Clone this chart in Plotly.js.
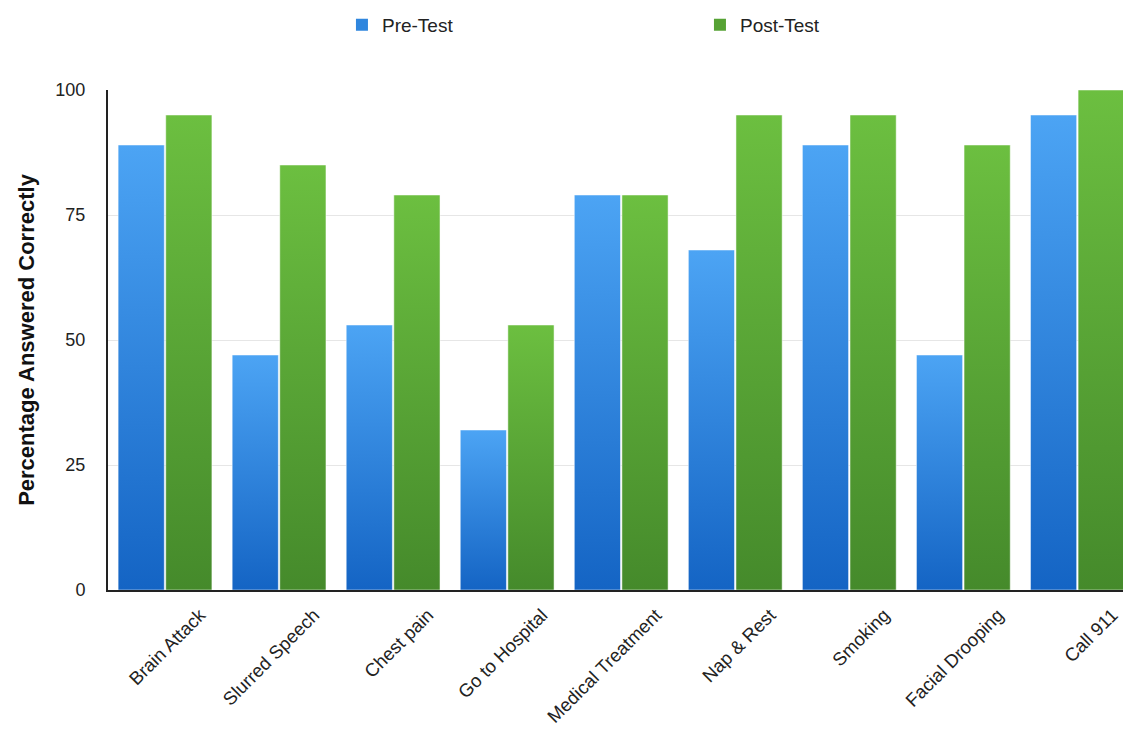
<!DOCTYPE html>
<html>
<head>
<meta charset="utf-8">
<script src="https://cdn.plot.ly/plotly-3.0.1.min.js"></script>
<style>html,body{margin:0;padding:0;background:#fff;}#chart{width:1123px;height:730px;}</style>
</head>
<body>
<div id="chart"></div>
<script>
const categories = ["Brain Attack", "Slurred Speech", "Chest pain", "Go to Hospital", "Medical Treatment", "Nap & Rest", "Smoking", "Facial Drooping", "Call 911"];
const preTest = [89, 47, 53, 32, 79, 68, 89, 47, 95];
const postTest = [95, 85, 79, 53, 79, 95, 95, 89, 100];
const yTicks = [0, 25, 50, 75, 100];

const font = "Liberation Sans, Arial, Helvetica, sans-serif";

const traces = [
  {type: "bar", name: "Pre-Test", x: categories, y: preTest,
   marker: {color: "#2f86de"}, hoverinfo: "x+y"},
  {type: "bar", name: "Post-Test", x: categories, y: postTest,
   marker: {color: "#56a234"}, hoverinfo: "x+y"}
];

const layout = {
  width: 1123, height: 730,
  margin: {l: 108, r: 0, t: 90, b: 140, autoexpand: false},
  paper_bgcolor: "#fff", plot_bgcolor: "#fff",
  font: {family: font, size: 16, color: "#222"},
  barmode: "group", bargap: 0.165, bargroupgap: 0.03,
  showlegend: true,
  legend: {orientation: "h", xref: "container", yref: "container",
           x: 0.3045, xanchor: "left", y: 0.966, yanchor: "middle",
           entrywidth: 313, entrywidthmode: "pixels",
           font: {family: font, size: 19, color: "#222"}, traceorder: "normal"},
  xaxis: {
    range: [-0.5, 8.4], tickangle: -45, showgrid: false, showline: true,
    linecolor: "#222", linewidth: 2, ticks: "", tickfont: {family: font, size: 18.5, color: "#222"},
    ticklabelshift: 35, ticklabelstandoff: 5, fixedrange: true, automargin: false
  },
  yaxis: {
    range: [0, 100], tickvals: yTicks, ticktext: yTicks.map(String),
    showgrid: true, gridcolor: "#e6e6e6", gridwidth: 1, zeroline: false,
    showline: true, linecolor: "#222", linewidth: 2, ticks: "",
    tickfont: {family: font, size: 18, color: "#222"}, ticklabelstandoff: 17,
    title: {text: "Percentage Answered Correctly", font: {family: font, size: 22, color: "#111", weight: "bold"}, standoff: 15},
    fixedrange: true, automargin: false
  }
};

Plotly.newPlot("chart", traces, layout, {displayModeBar: false, staticPlot: true}).then(function (gd) {
  const svg = gd.querySelector(".main-svg");
  const ns = "http://www.w3.org/2000/svg";
  let defs = svg.querySelector("defs");
  if (!defs) { defs = document.createElementNS(ns, "defs"); svg.insertBefore(defs, svg.firstChild); }
  function grad(id, top, bottom) {
    const g = document.createElementNS(ns, "linearGradient");
    g.setAttribute("id", id); g.setAttribute("x1", "0"); g.setAttribute("y1", "0");
    g.setAttribute("x2", "0"); g.setAttribute("y2", "1");
    [[0, top], [1, bottom]].forEach(function (s) {
      const st = document.createElementNS(ns, "stop");
      st.setAttribute("offset", s[0]); st.setAttribute("stop-color", s[1]);
      g.appendChild(st);
    });
    defs.appendChild(g);
  }
  grad("gradPre", "#4ca4f4", "#1464c4");
  grad("gradPost", "#6cbf40", "#458a2b");
  const groups = gd.querySelectorAll(".barlayer .trace");
  const ids = ["gradPre", "gradPost"];
  groups.forEach(function (t, i) {
    t.querySelectorAll("path").forEach(function (p) {
      p.style.fill = "url(#" + ids[i] + ")";
      p.style.stroke = "#ffffff"; p.style.strokeWidth = "0.5px";
    });
  });
});
</script>
</body>
</html>
